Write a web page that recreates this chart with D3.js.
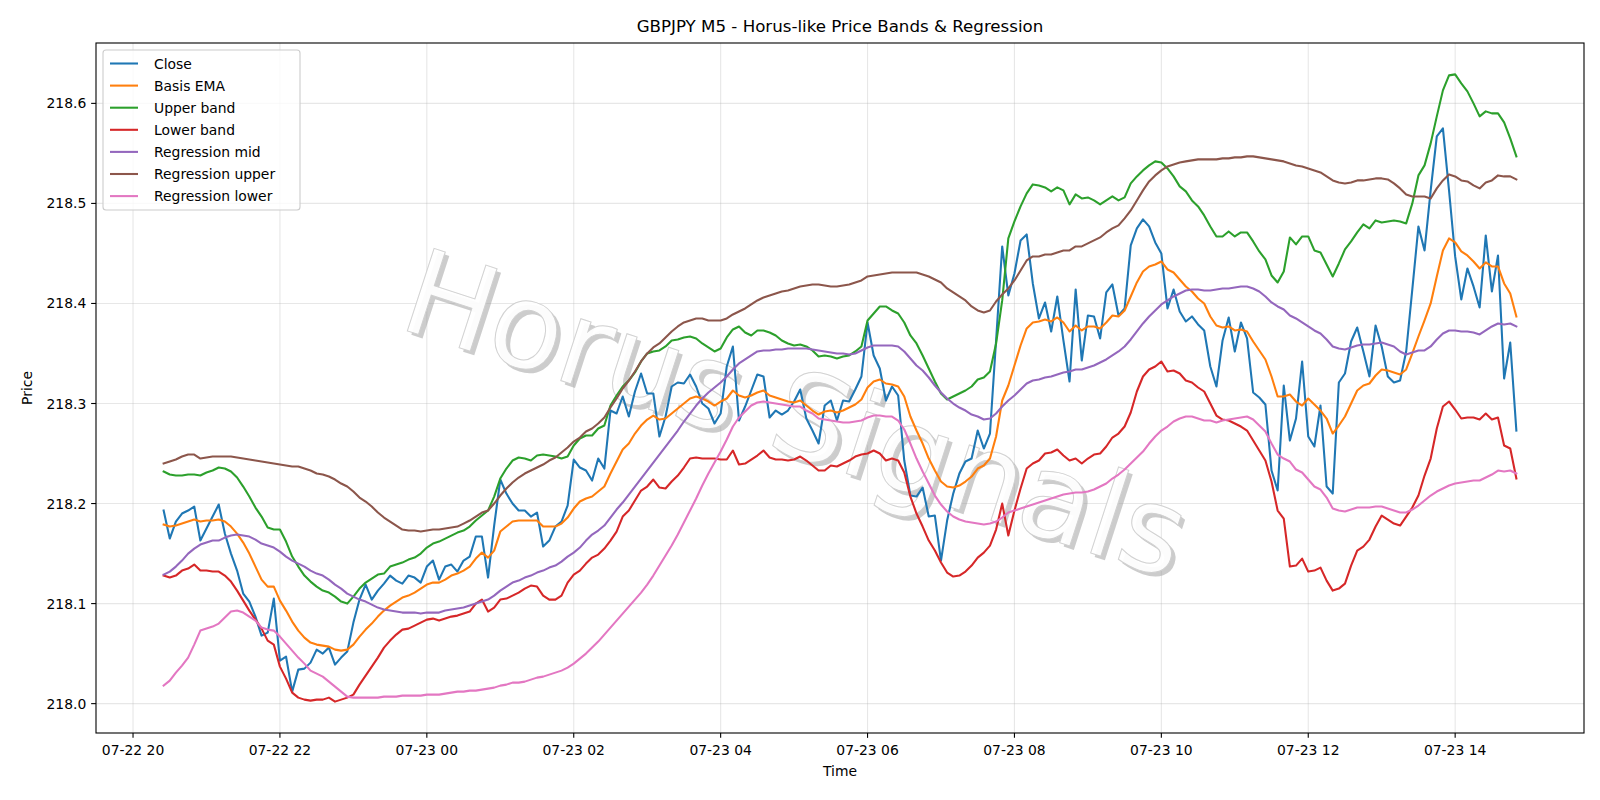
<!DOCTYPE html>
<html><head><meta charset="utf-8">
<script src="https://cdn.jsdelivr.net/npm/d3@7"></script>
<style>body{margin:0;background:#fff}svg{display:block}text{font-family:"DejaVu Sans",sans-serif}</style>
</head><body><svg id="c" width="1600" height="800"></svg>
<script>
// ---- data (GBPJPY M5, 2025-07-22 20:25 UTC .. 07-23 14:50) ----
const startTime = Date.UTC(2025,6,22,20,25);
const barMinutes = 5;
const close=[218.193,218.165,218.182,218.190,218.193,218.197,218.163,218.175,218.187,218.199,
218.170,218.150,218.133,218.110,218.102,218.087,218.068,218.071,218.105,218.043,
218.047,218.012,218.034,218.035,218.041,218.054,218.050,218.056,218.039,218.046,
218.052,218.081,218.104,218.119,218.104,218.113,218.120,218.128,218.123,218.120,
218.128,218.126,218.121,218.137,218.143,218.124,218.137,218.139,218.132,218.143,
218.147,218.167,218.167,218.126,218.178,218.224,218.210,218.200,218.193,218.193,
218.187,218.191,218.157,218.163,218.177,218.182,218.198,218.244,218.236,218.233,
218.223,218.245,218.235,218.293,218.290,218.307,218.287,218.312,218.330,218.310,
218.310,218.267,218.287,218.317,218.321,218.320,218.329,218.317,218.300,218.295,
218.280,218.290,218.337,218.357,218.283,218.297,218.313,218.329,218.327,218.286,
218.293,218.289,218.293,218.302,218.314,218.285,218.273,218.260,218.298,218.303,
218.283,218.303,218.302,218.314,218.327,218.381,218.348,218.335,218.303,218.317,
218.308,218.243,218.208,218.207,218.216,218.187,218.188,218.143,218.183,218.210,
218.230,218.242,218.245,218.273,218.255,218.270,218.363,218.457,218.408,218.430,
218.463,218.469,218.420,218.385,218.401,218.372,218.407,218.363,218.322,218.414,
218.343,218.388,218.387,218.365,218.411,218.419,218.388,218.395,218.458,218.475,
218.484,218.477,218.461,218.450,218.395,218.414,218.392,218.382,218.387,218.379,
218.373,218.337,218.317,218.363,218.386,218.352,218.381,218.365,218.311,218.306,
218.299,218.233,218.213,218.318,218.263,218.285,218.342,218.267,218.257,218.298,
218.217,218.210,218.321,218.330,218.362,218.376,218.352,218.327,218.378,218.357,
218.327,218.321,218.323,218.352,218.414,218.477,218.453,218.513,218.567,218.575,
218.513,218.447,218.404,218.435,218.417,218.396,218.468,218.412,218.448,218.325,
218.361,218.273];
const basisEma=[218.179,218.177,218.178,218.180,218.182,218.184,218.182,218.183,218.183,218.184,
218.182,218.177,218.170,218.161,218.150,218.137,218.124,218.117,218.117,218.103,
218.093,218.082,218.073,218.066,218.061,218.059,218.058,218.057,218.054,218.053,
218.054,218.059,218.067,218.074,218.080,218.087,218.093,218.098,218.102,218.106,
218.108,218.111,218.115,218.119,218.121,218.121,218.124,218.128,218.130,218.133,
218.137,218.145,218.151,218.146,218.153,218.172,218.177,218.182,218.183,218.183,
218.183,218.183,218.177,218.177,218.177,218.180,218.186,218.195,218.202,218.205,
218.207,218.212,218.217,218.230,218.242,218.254,218.260,218.270,218.278,218.284,
218.288,218.284,218.285,218.290,218.295,218.300,218.305,218.307,218.305,218.302,
218.298,218.302,218.305,218.313,218.308,218.306,218.308,218.311,218.313,218.308,
218.306,218.304,218.302,218.301,218.303,218.298,218.293,218.289,218.292,218.293,
218.291,218.293,218.296,218.299,218.304,218.316,218.322,218.324,218.320,218.319,
218.317,218.307,218.287,218.273,218.260,218.245,218.233,218.222,218.217,218.216,
218.218,218.222,218.227,218.235,218.238,218.245,218.267,218.303,218.318,218.338,
218.358,218.375,218.381,218.382,218.384,218.382,218.386,218.381,218.372,218.378,
218.373,218.377,218.377,218.375,218.381,218.388,218.387,218.393,218.407,218.421,
218.432,218.437,218.439,218.442,218.434,218.431,218.424,218.417,218.412,218.405,
218.400,218.387,218.378,218.376,218.377,218.373,218.374,218.372,218.362,218.353,
218.344,218.327,218.307,218.307,218.309,218.302,218.298,218.305,218.299,218.293,
218.285,218.270,218.278,218.287,218.300,218.313,218.318,218.320,218.328,218.334,
218.333,218.331,218.329,218.334,218.350,218.367,218.383,218.400,218.427,218.453,
218.465,218.461,218.452,218.448,218.442,218.435,218.441,218.437,218.437,218.420,
218.410,218.387];
const upperBand=[218.232,218.229,218.228,218.228,218.229,218.229,218.228,218.231,218.233,218.236,
218.235,218.232,218.226,218.217,218.207,218.196,218.187,218.176,218.174,218.174,
218.162,218.147,218.137,218.128,218.122,218.117,218.113,218.111,218.107,218.102,
218.100,218.107,218.115,218.121,218.125,218.129,218.130,218.137,218.139,218.141,
218.144,218.146,218.150,218.156,218.160,218.162,218.165,218.168,218.171,218.173,
218.177,218.183,218.188,218.193,218.207,218.225,218.235,218.243,218.246,218.245,
218.243,218.248,218.249,218.248,218.247,218.245,218.247,218.258,218.265,218.268,
218.268,218.275,218.278,218.298,218.308,218.317,218.323,218.331,218.342,218.350,
218.352,218.353,218.357,218.363,218.364,218.366,218.367,218.365,218.360,218.356,
218.352,218.355,218.366,218.374,218.377,218.371,218.368,218.373,218.373,218.371,
218.368,218.363,218.360,218.358,218.359,218.357,218.353,218.347,218.348,218.347,
218.345,218.347,218.348,218.352,218.357,218.383,218.390,218.397,218.397,218.393,
218.390,218.381,218.368,218.360,218.348,218.335,218.322,218.310,218.304,218.307,
218.310,218.313,218.317,218.324,218.326,218.332,218.360,218.403,218.465,218.482,
218.497,218.510,218.519,218.518,218.516,218.512,218.516,218.513,218.499,218.509,
218.505,218.506,218.503,218.499,218.503,218.507,218.503,218.506,218.520,218.527,
218.533,218.538,218.542,218.541,218.535,218.527,218.517,218.512,218.503,218.497,
218.488,218.477,218.467,218.467,218.472,218.467,218.471,218.471,218.462,218.452,
218.444,218.428,218.421,218.432,218.466,218.459,218.467,218.467,218.453,218.451,
218.439,218.427,218.440,218.454,218.462,218.471,218.479,218.475,218.483,218.481,
218.482,218.483,218.482,218.480,218.500,218.528,218.538,218.560,218.587,218.613,
218.628,218.629,218.620,218.612,218.600,218.587,218.592,218.590,218.590,218.581,
218.565,218.547];
const lowerBand=[218.128,218.126,218.128,218.133,218.135,218.139,218.133,218.133,218.132,218.132,
218.128,218.122,218.113,218.103,218.093,218.084,218.075,218.063,218.059,218.037,
218.025,218.011,218.006,218.004,218.003,218.004,218.004,218.006,218.002,218.004,
218.006,218.009,218.019,218.028,218.037,218.046,218.056,218.063,218.069,218.074,
218.075,218.078,218.081,218.084,218.085,218.083,218.085,218.087,218.088,218.090,
218.092,218.100,218.104,218.092,218.096,218.104,218.105,218.108,218.111,218.115,
218.118,218.117,218.108,218.104,218.104,218.108,218.121,218.129,218.133,218.140,
218.146,218.149,218.155,218.163,218.172,218.187,218.193,218.203,218.213,218.217,
218.224,218.216,218.215,218.222,218.228,218.236,218.245,218.246,218.245,218.245,
218.245,218.244,218.244,218.253,218.239,218.240,218.244,218.248,218.253,218.246,
218.244,218.244,218.243,218.244,218.247,218.243,218.238,218.233,218.233,218.238,
218.237,218.240,218.243,218.247,218.249,218.250,218.253,218.250,218.243,218.245,
218.243,218.231,218.207,218.190,218.177,218.163,218.153,218.141,218.131,218.127,
218.128,218.132,218.138,218.146,218.151,218.158,218.174,218.200,218.168,218.193,
218.215,218.235,218.240,218.243,218.250,218.251,218.254,218.248,218.243,218.245,
218.240,218.245,218.249,218.250,218.257,218.266,218.270,218.277,218.291,218.312,
218.327,218.334,218.337,218.342,218.332,218.333,218.330,218.323,218.321,218.316,
218.312,218.300,218.288,218.284,218.283,218.280,218.277,218.273,218.263,218.253,
218.243,218.222,218.193,218.185,218.137,218.138,218.145,218.132,218.133,218.136,
218.123,218.113,218.115,218.120,218.138,218.153,218.157,218.164,218.177,218.188,
218.184,218.180,218.178,218.187,218.196,218.208,218.228,218.245,218.275,218.297,
218.302,218.294,218.285,218.286,218.286,218.284,218.290,218.284,218.286,218.258,
218.255,218.225];
const regMid=[218.129,218.132,218.137,218.143,218.150,218.155,218.159,218.161,218.163,218.163,
218.166,218.168,218.169,218.168,218.167,218.164,218.160,218.158,218.156,218.152,
218.147,218.143,218.140,218.137,218.133,218.130,218.128,218.124,218.119,218.115,
218.110,218.107,218.104,218.102,218.099,218.096,218.094,218.093,218.092,218.091,
218.091,218.091,218.090,218.091,218.091,218.091,218.093,218.094,218.095,218.096,
218.098,218.100,218.102,218.104,218.108,218.113,218.117,218.121,218.123,218.126,
218.128,218.131,218.133,218.136,218.138,218.142,218.147,218.151,218.156,218.163,
218.169,218.173,218.178,218.186,218.194,218.201,218.209,218.217,218.225,218.233,
218.241,218.249,218.257,218.265,218.273,218.282,218.290,218.298,218.305,218.311,
218.316,218.321,218.327,218.334,218.340,218.344,218.348,218.352,218.353,218.353,
218.354,218.354,218.355,218.355,218.355,218.355,218.354,218.353,218.352,218.351,
218.350,218.350,218.349,218.350,218.353,218.356,218.358,218.358,218.358,218.358,
218.357,218.352,218.345,218.338,218.333,218.326,218.318,218.311,218.305,218.300,
218.296,218.293,218.289,218.287,218.284,218.285,218.290,218.297,218.303,218.308,
218.314,218.320,218.323,218.324,218.326,218.327,218.329,218.331,218.332,218.334,
218.334,218.336,218.338,218.341,218.344,218.348,218.352,218.357,218.364,218.372,
218.380,218.387,218.393,218.399,218.403,218.407,218.410,218.413,218.414,218.414,
218.413,218.413,218.414,218.415,218.415,218.416,218.417,218.417,218.415,218.412,
218.407,218.401,218.397,218.394,218.388,218.385,218.381,218.377,218.373,218.370,
218.364,218.357,218.355,218.354,218.356,218.358,218.359,218.359,218.360,218.361,
218.359,218.357,218.352,218.349,218.351,218.353,218.353,218.357,218.364,218.370,
218.373,218.373,218.372,218.372,218.371,218.369,218.373,218.377,218.380,218.379,
218.380,218.377];
const regUpper=[218.240,218.242,218.244,218.247,218.249,218.249,218.245,218.246,218.247,218.247,
218.247,218.247,218.246,218.245,218.244,218.243,218.242,218.241,218.240,218.239,
218.238,218.237,218.237,218.235,218.233,218.230,218.229,218.227,218.224,218.220,
218.217,218.212,218.206,218.202,218.197,218.191,218.186,218.182,218.178,218.174,
218.173,218.173,218.172,218.173,218.174,218.174,218.175,218.176,218.177,218.180,
218.183,218.187,218.191,218.193,218.200,218.208,218.215,218.221,218.226,218.230,
218.233,218.236,218.239,218.243,218.246,218.251,218.256,218.262,218.266,218.272,
218.275,218.280,218.286,218.296,218.305,218.315,218.323,218.332,218.342,218.350,
218.356,218.360,218.366,218.372,218.377,218.381,218.383,218.385,218.385,218.383,
218.383,218.383,218.385,218.389,218.392,218.395,218.399,218.403,218.406,218.408,
218.410,218.412,218.413,218.415,218.417,218.418,218.419,218.419,218.418,218.417,
218.417,218.418,218.419,218.421,218.423,218.427,218.428,218.429,218.430,218.431,
218.431,218.431,218.431,218.431,218.429,218.427,218.424,218.421,218.415,218.411,
218.407,218.403,218.397,218.393,218.391,218.393,218.402,218.409,218.415,218.423,
218.433,218.443,218.447,218.447,218.449,218.449,218.451,218.453,218.453,218.457,
218.457,218.460,218.463,218.466,218.471,218.475,218.478,218.485,218.493,218.503,
218.513,218.522,218.528,218.533,218.537,218.539,218.541,218.542,218.543,218.544,
218.544,218.544,218.544,218.545,218.545,218.546,218.546,218.547,218.547,218.546,
218.545,218.544,218.543,218.542,218.540,218.538,218.537,218.535,218.533,218.531,
218.527,218.523,218.521,218.520,218.521,218.523,218.523,218.524,218.525,218.525,
218.524,218.520,218.515,218.509,218.507,218.507,218.507,218.505,218.515,218.523,
218.529,218.527,218.523,218.522,218.518,218.515,218.521,218.523,218.528,218.527,
218.527,218.524];
const regLower=[218.018,218.023,218.031,218.038,218.046,218.059,218.073,218.075,218.077,218.080,
218.086,218.092,218.093,218.091,218.087,218.083,218.076,218.074,218.073,218.067,
218.060,218.053,218.046,218.040,218.033,218.030,218.027,218.022,218.017,218.012,
218.007,218.006,218.006,218.006,218.006,218.006,218.007,218.007,218.007,218.008,
218.008,218.008,218.008,218.009,218.009,218.009,218.010,218.011,218.012,218.012,
218.013,218.013,218.014,218.015,218.016,218.018,218.019,218.021,218.021,218.022,
218.024,218.026,218.027,218.029,218.031,218.033,218.036,218.040,218.045,218.050,
218.056,218.062,218.069,218.076,218.083,218.090,218.097,218.104,218.111,218.119,
218.128,218.138,218.148,218.158,218.169,218.181,218.193,218.205,218.218,218.230,
218.241,218.252,218.264,218.277,218.286,218.292,218.298,218.301,218.302,218.301,
218.300,218.299,218.298,218.297,218.297,218.293,218.290,218.285,218.284,218.283,
218.282,218.281,218.281,218.282,218.283,218.286,218.288,218.288,218.287,218.287,
218.283,218.274,218.260,218.245,218.232,218.220,218.208,218.199,218.192,218.187,
218.184,218.182,218.181,218.180,218.179,218.180,218.182,218.186,218.191,218.193,
218.195,218.197,218.199,218.201,218.203,218.205,218.207,218.209,218.210,218.211,
218.211,218.212,218.214,218.217,218.220,218.225,218.229,218.234,218.240,218.246,
218.252,218.260,218.267,218.273,218.277,218.282,218.285,218.287,218.287,218.285,
218.283,218.283,218.281,218.283,218.284,218.285,218.286,218.287,218.284,218.278,
218.272,218.260,218.249,218.245,218.242,218.234,218.231,218.224,218.217,218.214,
218.206,218.195,218.193,218.192,218.194,218.196,218.196,218.196,218.197,218.197,
218.195,218.193,218.191,218.191,218.194,218.198,218.203,218.208,218.212,218.215,
218.218,218.220,218.221,218.222,218.223,218.223,218.226,218.229,218.233,218.232,
218.233,218.230];
const seriesNames=["Close","Basis EMA","Upper band","Lower band","Regression mid","Regression upper","Regression lower"];
const seriesColors=["#1f77b4","#ff7f0e","#2ca02c","#d62728","#9467bd","#8c564b","#e377c2"];
const yTicks=[218.0,218.1,218.2,218.3,218.4,218.5,218.6];
const titleText="GBPJPY M5 - Horus-like Price Bands & Regression";
const watermarkText="Horus Signals";

// ---- chart ----
const svg=d3.select("#c");
const L=96,R=1584,T=43,B=733;
const series=[close,basisEma,upperBand,lowerBand,regMid,regUpper,regLower];
const n=close.length;
const times=d3.range(n).map(i=>new Date(startTime+i*barMinutes*60000));
const span=times[n-1]-times[0];
const x=d3.scaleUtc().domain([new Date(+times[0]-0.05*span),new Date(+times[n-1]+0.05*span)]).range([L,R]);
const allV=series.flat();
const vmin=d3.min(allV),vmax=d3.max(allV),vr=vmax-vmin;
const y=d3.scaleLinear().domain([vmin-0.05*vr,vmax+0.05*vr]).range([B,T]);
const xTicks=d3.utcHour.every(2).range(x.domain()[0],x.domain()[1]);
const fmt=d3.utcFormat("%m-%d %H");

svg.append("rect").attr("width",1600).attr("height",800).attr("fill","#fff");
svg.append("defs").append("clipPath").attr("id","clip").append("rect").attr("x",L).attr("y",T).attr("width",R-L).attr("height",B-T);

const grid=svg.append("g").attr("stroke","#b0b0b0").attr("stroke-opacity",0.3).attr("stroke-width",1.1);
xTicks.forEach(t=>grid.append("line").attr("x1",x(t)).attr("x2",x(t)).attr("y1",T).attr("y2",B));
yTicks.forEach(v=>grid.append("line").attr("x1",L).attr("x2",R).attr("y1",y(v)).attr("y2",y(v)));

// watermark: white text with soft grey drop shadow
const wm=svg.append("g").attr("clip-path","url(#clip)");
const wx=796,wy=414;
wm.append("text").attr("transform",`translate(${wx+4},${wy+4}) rotate(18)`).attr("text-anchor","middle").attr("dominant-baseline","central")
  .attr("font-size",119).attr("fill","#9a9a9a").attr("opacity",0.5).text(watermarkText);
wm.append("text").attr("transform",`translate(${wx},${wy}) rotate(18)`).attr("text-anchor","middle").attr("dominant-baseline","central")
  .attr("font-size",119).attr("fill","#ffffff").attr("stroke","#d0d0d0").attr("stroke-width",1).attr("opacity",0.95).text(watermarkText);

const lineGen=d3.line().x((d,i)=>x(times[i])).y(d=>y(d));
const lines=svg.append("g").attr("clip-path","url(#clip)");
series.forEach((s,k)=>{
  lines.append("path").datum(s).attr("d",lineGen).attr("fill","none").attr("stroke",seriesColors[k])
    .attr("stroke-width",2.08).attr("stroke-linejoin","round").attr("stroke-linecap","square");
});

// axes
const ax=svg.append("g").attr("font-size",13.9).attr("fill","#000");
xTicks.forEach(t=>{
  ax.append("line").attr("x1",x(t)).attr("x2",x(t)).attr("y1",B).attr("y2",B+4.86).attr("stroke","#000").attr("stroke-width",1.1);
  ax.append("text").attr("x",x(t)).attr("y",755).attr("text-anchor","middle").text(fmt(t));
});
yTicks.forEach(v=>{
  ax.append("line").attr("x1",L-4.86).attr("x2",L).attr("y1",y(v)).attr("y2",y(v)).attr("stroke","#000").attr("stroke-width",1.1);
  ax.append("text").attr("x",L-9.7).attr("y",y(v)+5).attr("text-anchor","end").text(v.toFixed(1));
});
svg.append("rect").attr("x",L).attr("y",T).attr("width",R-L).attr("height",B-T).attr("fill","none").attr("stroke","#000").attr("stroke-width",1.1);
svg.append("text").attr("x",(L+R)/2).attr("y",32).attr("text-anchor","middle").attr("font-size",16.67).text(titleText);
svg.append("text").attr("x",(L+R)/2).attr("y",776).attr("text-anchor","middle").attr("font-size",13.9).text("Time");
svg.append("text").attr("transform",`translate(32,${(T+B)/2}) rotate(-90)`).attr("text-anchor","middle").attr("font-size",13.9).text("Price");

// legend
const lg=svg.append("g");
lg.append("rect").attr("x",103).attr("y",50).attr("width",197).attr("height",160).attr("rx",3).attr("fill","#fff").attr("fill-opacity",0.8).attr("stroke","#cccccc").attr("stroke-width",1.1);
seriesNames.forEach((nm,k)=>{
  const yy=63.5+k*22.1;
  lg.append("line").attr("x1",110).attr("x2",138).attr("y1",yy).attr("y2",yy).attr("stroke",seriesColors[k]).attr("stroke-width",2.08);
  lg.append("text").attr("x",154).attr("y",yy+5).attr("font-size",13.9).text(nm);
});
</script></body></html>
